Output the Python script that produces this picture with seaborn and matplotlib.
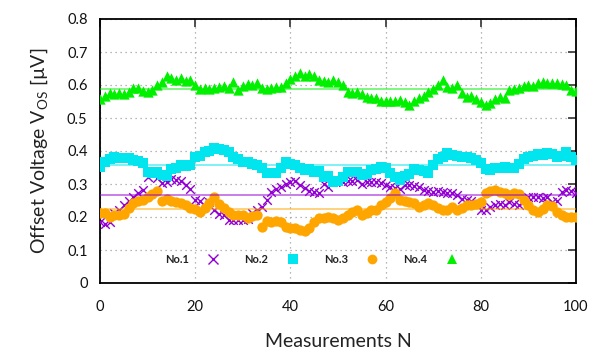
import numpy as np
import pandas as pd
import matplotlib
matplotlib.use("Agg")
import matplotlib.pyplot as plt
from matplotlib.lines import Line2D
import seaborn as sns

# Offset voltage readings (µV) for four devices over 101 measurements
n = list(range(101))

no1 = [0.185, 0.180, 0.185, 0.212, 0.222, 0.236, 0.250, 0.262, 0.272, 0.282,
       0.322, 0.333, 0.318, 0.304, 0.307, 0.314, 0.312, 0.310, 0.297, 0.285,
       0.252, 0.247, 0.232, 0.245, 0.222, 0.210, 0.206, 0.190, 0.192, 0.190,
       0.190, 0.193, 0.212, 0.222, 0.231, 0.253, 0.277, 0.285, 0.290, 0.300,
       0.307, 0.310, 0.297, 0.287, 0.280, 0.277, 0.272, 0.300, 0.290, 0.312,
       0.310, 0.305, 0.308, 0.310, 0.312, 0.300, 0.307, 0.305, 0.307, 0.302,
       0.297, 0.292, 0.287, 0.285, 0.297, 0.298, 0.295, 0.290, 0.282, 0.278,
       0.277, 0.280, 0.277, 0.272, 0.272, 0.267, 0.255, 0.252, 0.248, 0.240,
       0.222, 0.220, 0.230, 0.236, 0.240, 0.236, 0.245, 0.240, 0.236, 0.250,
       0.262, 0.260, 0.262, 0.258, 0.262, 0.245, 0.250, 0.275, 0.282, 0.280,
       0.272]

no2 = [0.352, 0.368, 0.375, 0.383, 0.380, 0.378, 0.380, 0.372, 0.370, 0.365,
       0.337, 0.333, 0.335, 0.327, 0.323, 0.345, 0.350, 0.357, 0.355, 0.357,
       0.383, 0.385, 0.398, 0.400, 0.410, 0.405, 0.403, 0.397, 0.383, 0.375,
       0.368, 0.368, 0.360, 0.358, 0.347, 0.332, 0.333, 0.332, 0.347, 0.368,
       0.360, 0.357, 0.350, 0.342, 0.345, 0.337, 0.338, 0.322, 0.325, 0.307,
       0.310, 0.322, 0.335, 0.337, 0.335, 0.327, 0.330, 0.342, 0.345, 0.352,
       0.350, 0.332, 0.320, 0.312, 0.325, 0.330, 0.345, 0.343, 0.340, 0.332,
       0.357, 0.375, 0.383, 0.393, 0.388, 0.385, 0.383, 0.382, 0.380, 0.372,
       0.363, 0.345, 0.343, 0.350, 0.350, 0.352, 0.350, 0.347, 0.362, 0.375,
       0.383, 0.385, 0.390, 0.388, 0.393, 0.390, 0.383, 0.385, 0.398, 0.383,
       0.373]

no3 = [0.211, 0.211, 0.201, 0.205, 0.205, 0.208, 0.226, 0.241, 0.247, 0.251,
       0.262, 0.270, 0.280, 0.249, 0.255, 0.249, 0.245, 0.243, 0.236, 0.228,
       0.223, 0.216, 0.226, 0.241, 0.262, 0.240, 0.228, 0.216, 0.205, 0.206,
       0.205, 0.196, 0.203, 0.205, 0.171, 0.189, 0.186, 0.189, 0.186, 0.171,
       0.168, 0.166, 0.162, 0.158, 0.166, 0.186, 0.196, 0.196, 0.201, 0.196,
       0.190, 0.196, 0.205, 0.216, 0.221, 0.205, 0.211, 0.220, 0.222, 0.236,
       0.246, 0.258, 0.272, 0.251, 0.249, 0.245, 0.241, 0.231, 0.236, 0.241,
       0.236, 0.226, 0.221, 0.220, 0.231, 0.221, 0.228, 0.236, 0.236, 0.240,
       0.246, 0.272, 0.278, 0.282, 0.275, 0.272, 0.267, 0.272, 0.270, 0.251,
       0.236, 0.221, 0.216, 0.225, 0.236, 0.232, 0.216, 0.205, 0.201, 0.199,
       0.200]

no4 = [0.558, 0.566, 0.575, 0.572, 0.576, 0.574, 0.580, 0.590, 0.592, 0.583,
       0.580, 0.585, 0.600, 0.610, 0.627, 0.620, 0.614, 0.620, 0.612, 0.614,
       0.600, 0.588, 0.590, 0.587, 0.590, 0.595, 0.598, 0.592, 0.610, 0.585,
       0.598, 0.603, 0.600, 0.605, 0.590, 0.587, 0.592, 0.595, 0.593, 0.605,
       0.618, 0.628, 0.636, 0.628, 0.632, 0.627, 0.615, 0.612, 0.608, 0.614,
       0.610, 0.600, 0.578, 0.575, 0.578, 0.573, 0.565, 0.560, 0.562, 0.552,
       0.553, 0.550, 0.552, 0.555, 0.548, 0.540, 0.552, 0.562, 0.568, 0.578,
       0.588, 0.600, 0.615, 0.595, 0.590, 0.600, 0.575, 0.565, 0.568, 0.558,
       0.548, 0.540, 0.545, 0.558, 0.565, 0.560, 0.585, 0.588, 0.590, 0.598,
       0.600, 0.597, 0.605, 0.610, 0.605, 0.607, 0.605, 0.603, 0.600, 0.585,
       0.583]

labels = ["No.1", "No.2", "No.3", "No.4"]
x_ticks = [0, 20, 40, 60, 80, 100]
y_ticks = [0, 0.1, 0.2, 0.3, 0.4, 0.5, 0.6, 0.7, 0.8]

styles = {
    "No.1": dict(color="#9400D3", marker="x", s=38, linewidth=1.0),
    "No.2": dict(color="#00E5EE", marker="s", s=50, linewidth=0),
    "No.3": dict(color="#FFA500", marker="o", s=55, linewidth=0),
    "No.4": dict(color="#00F000", marker="^", s=55, linewidth=0),
}

df = pd.DataFrame({"N": n * 4,
                   "V": no1 + no2 + no3 + no4,
                   "dev": sum([[lab] * len(n) for lab in labels], [])})

sns.set_style("white")
plt.rcParams["font.family"] = ["Lato", "DejaVu Sans"]
plt.rcParams["mathtext.fontset"] = "custom"
plt.rcParams["mathtext.rm"] = "Lato"

fig = plt.figure(figsize=(5.92, 3.49), dpi=100)
ax = fig.add_axes([100 / 592, 1 - 283 / 349, 476 / 592, 264 / 349])

for lab in labels:
    sub = df[df["dev"] == lab]
    st = styles[lab]
    sns.scatterplot(data=sub, x="N", y="V", ax=ax, color=st["color"],
                    marker=st["marker"], s=st["s"], linewidth=st["linewidth"],
                    edgecolor=st["color"] if st["marker"] != "x" else None,
                    legend=False, zorder=3)

# mean level of each device
for lab in labels:
    ax.axhline(df.loc[df["dev"] == lab, "V"].mean(), color=styles[lab]["color"],
               lw=1.3, alpha=0.55, zorder=4)

ax.set_xlim(0, 100)
ax.set_ylim(0, 0.8)
ax.set_xticks(x_ticks)
ax.set_yticks(y_ticks)
ax.set_xticklabels([str(t) for t in x_ticks])
ax.set_yticklabels(["0"] + [f"{t:.1f}" for t in y_ticks[1:]])
ax.tick_params(direction="in", length=6, width=1.2, top=True, right=True,
               labelsize=10.5, labelcolor="#111111", pad=9, color="#333333")
ax.tick_params(axis="x", pad=12)
ax.grid(True, linestyle=(0, (1, 3)), color="#a0a0a0", linewidth=0.9)
for sp in ax.spines.values():
    sp.set_linewidth(1.3)
    sp.set_color("black")

ax.set_xlabel("Measurements N", fontsize=14, color="#222222", labelpad=14)
ax.set_ylabel(r"Offset Voltage V$_\mathregular{OS}$ [µV]", fontsize=14,
              color="#222222", labelpad=12)

handles = []
for lab in labels:
    st = styles[lab]
    handles.append(Line2D([], [], linestyle="none", marker=st["marker"],
                          color=st["color"], markersize=7,
                          markeredgewidth=1.0 if st["marker"] == "x" else 0))
ax.legend(handles, labels, ncol=4, markerfirst=False, frameon=False,
          loc="center", bbox_to_anchor=(0.445, 0.09), fontsize=8,
          labelcolor="#222222", handlelength=1.2, handletextpad=1.6,
          columnspacing=2.2, prop={"weight": "bold", "size": 8})

fig.savefig("out.png", dpi=100)
